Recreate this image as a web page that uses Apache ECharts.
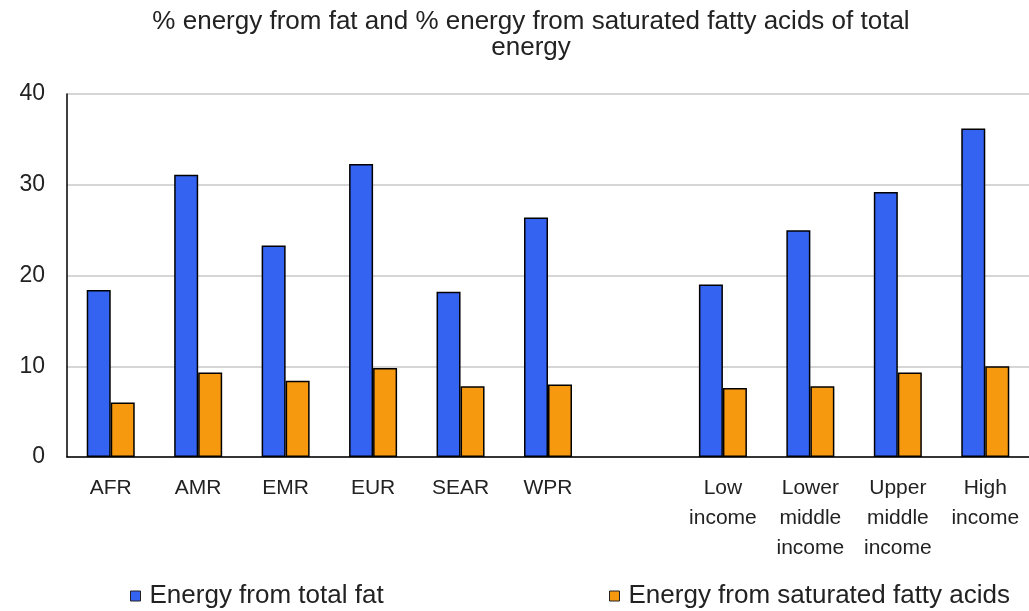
<!DOCTYPE html>
<html>
<head>
<meta charset="utf-8">
<script src="https://cdn.jsdelivr.net/npm/echarts@6/dist/echarts.min.js"></script>
<style>
html,body{margin:0;padding:0;background:#fff;}
#chart{width:1029px;height:611px;}
</style>
</head>
<body>
<div id="chart"></div>
<script>
const categories = ['AFR','AMR','EMR','EUR','SEAR','WPR','','Low\nincome','Lower\nmiddle\nincome','Upper\nmiddle\nincome','High\nincome'];
const totalFat = [18.4, 31.1, 23.3, 32.3, 18.2, 26.4, null, 19.0, 25.0, 29.2, 36.2];
const saturatedFat = [6.0, 9.3, 8.4, 9.8, 7.8, 8.0, null, 7.6, 7.8, 9.3, 10.0];
const seriesNames = ['Energy from total fat', 'Energy from saturated fatty acids'];
const yTicks = [0, 10, 20, 30, 40];

const FONT = '"Liberation Sans", Arial, sans-serif';
const chart = echarts.init(document.getElementById('chart'));
chart.setOption({
  animation: false,
  backgroundColor: '#ffffff',
  title: {
    text: '% energy from fat and % energy from saturated fatty acids of total\nenergy',
    left: 531,
    textAlign: 'center',
    top: 9,
    padding: 0,
    textStyle: {fontFamily: FONT, fontSize: 26, fontWeight: 'normal', color: '#222', lineHeight: 26}
  },
  legend: [
    {data: [seriesNames[0]], left: 130, top: 583, padding: 0, icon: 'rect', itemWidth: 10, itemHeight: 10, itemGap: 0,
     itemStyle: {borderColor: '#222', borderWidth: 1},
     textStyle: {fontFamily: FONT, fontSize: 26, color: '#222', padding: [0, 0, 0, 4]}},
    {data: [seriesNames[1]], left: 609, top: 583, padding: 0, icon: 'rect', itemWidth: 10, itemHeight: 10, itemGap: 0,
     itemStyle: {borderColor: '#222', borderWidth: 1},
     textStyle: {fontFamily: FONT, fontSize: 26, color: '#222', padding: [0, 0, 0, 4]}}
  ],
  grid: {left: 67, right: 0, top: 94, bottom: 154, containLabel: false},
  xAxis: {
    type: 'category',
    data: categories,
    axisTick: {show: false},
    axisLine: {lineStyle: {color: '#000', width: 1.5}},
    axisLabel: {interval: 0, fontFamily: FONT, fontSize: 21, color: '#222', lineHeight: 30, margin: 16, verticalAlign: 'top'}
  },
  yAxis: {
    type: 'value',
    min: yTicks[0], max: yTicks[yTicks.length - 1], interval: 10,
    axisLine: {show: true, lineStyle: {color: '#000', width: 1.5}},
    axisTick: {show: false},
    splitLine: {lineStyle: {color: '#c8c8c8', width: 1.5}},
    axisLabel: {fontFamily: FONT, fontSize: 23, color: '#222', margin: 22}
  },
  series: [
    {name: seriesNames[0], type: 'bar', data: totalFat, barWidth: 24, barGap: '0%',
     itemStyle: {color: '#3463f2', borderColor: '#000', borderWidth: 1.5}},
    {name: seriesNames[1], type: 'bar', data: saturatedFat, barWidth: 24,
     itemStyle: {color: '#f7990f', borderColor: '#000', borderWidth: 1.5}}
  ]
});
</script>
</body>
</html>
